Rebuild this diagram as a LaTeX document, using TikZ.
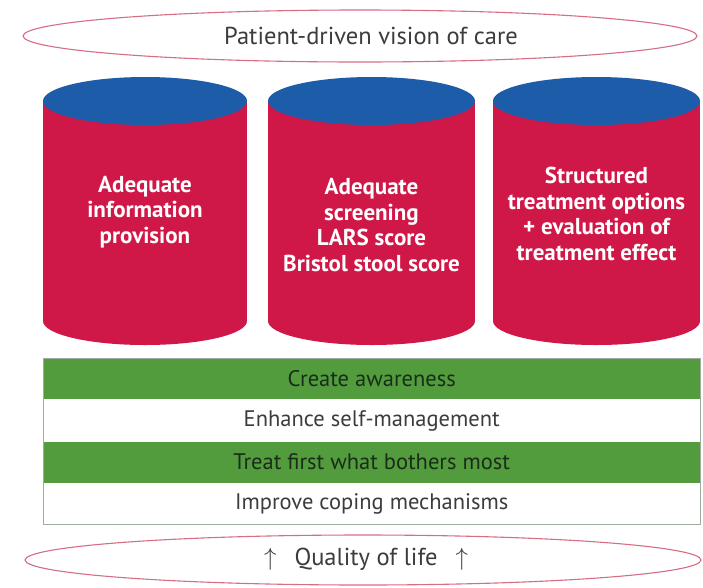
\documentclass[tikz,border=0pt]{standalone}
\usepackage{fontspec}
\setmainfont{PT Sans}
\definecolor{pillarred}{RGB}{208,24,72}
\definecolor{pillarblue}{RGB}{28,92,168}
\definecolor{rowgreen}{RGB}{82,156,62}
\definecolor{ringpink}{RGB}{214,110,132}
\definecolor{framegray}{RGB}{160,172,160}
\definecolor{textgray}{RGB}{60,60,60}
\definecolor{textdark}{RGB}{25,45,25}
\begin{document}
\begin{tikzpicture}[x=1pt,y=-1pt,
  ring/.style={draw=ringpink,line width=1.1pt},
  ringtext/.style={font=\fontsize{24.5}{28}\selectfont,text=textgray},
  pillartext/.style={font=\fontsize{23}{25.5}\selectfont\bfseries,text=white,align=center},
  rowbox/.style={minimum width=657pt,minimum height=41.25pt,inner sep=0pt,
    font=\fontsize{22.5}{26}\selectfont},
  greenrow/.style={rowbox,fill=rowgreen,text=textdark},
  whiterow/.style={rowbox,fill=white,text=textgray}]
\useasboundingbox (0,0) rectangle (703,587);
\fill[white] (0,0) rectangle (703,587);

% vision of care
\draw[ring] (360,36) ellipse [x radius=337, y radius=26];
\node[ringtext] (vision) at (371,36) {Patient-driven vision of care};

% three pillars: body, bottom cap, top cap
\foreach \cx/\rx in {145/102, 371.5/103.5, 596.5/103.5}{
  \fill[pillarred] (\cx-\rx,101) rectangle (\cx+\rx,321);
  \fill[pillarred] (\cx,321) ellipse [x radius=\rx, y radius=24];
  \fill[pillarblue] (\cx,101) ellipse [x radius=\rx, y radius=24];
}
\node[pillartext] (info) at (145,212) {Adequate\\information\\provision};
\node[pillartext] (screen) at (371.5,225) {Adequate\\screening\\LARS score\\Bristol stool score};
\node[pillartext] (treat) at (596.5,214) {Structured\\treatment options\\+ evaluation of\\treatment effect};

% principles
\node[greenrow,anchor=north west] (aware) at (43,358) {Create awareness};
\node[whiterow,anchor=north] (self) at (aware.south) {Enhance self-management};
\node[greenrow,anchor=north] (bother) at (self.south) {Treat first what bothers most};
\node[whiterow,anchor=north] (coping) at (bother.south) {Improve coping mechanisms};
\draw[framegray,line width=0.8pt] (aware.north west) rectangle (coping.south east);

% quality of life
\draw[ring] (363,560) ellipse [x radius=338, y radius=25];
\node[ringtext] (qol) at (366,559) {$\uparrow$\hspace{18pt}Quality of life\hspace{18pt}$\uparrow$};
\end{tikzpicture}
\end{document}
